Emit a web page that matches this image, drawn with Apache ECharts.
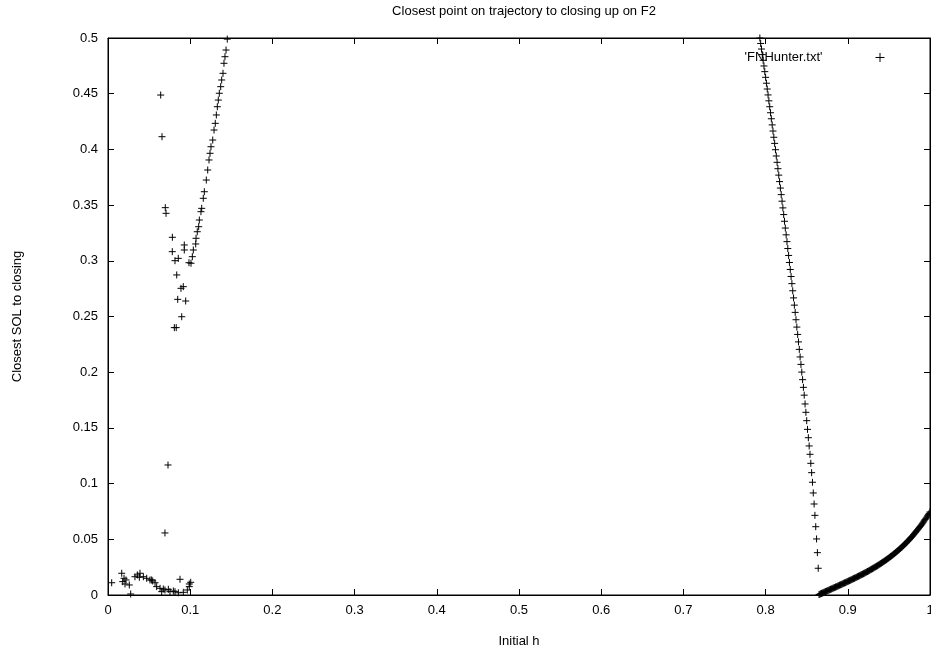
<!DOCTYPE html>
<html>
<head>
<meta charset="utf-8">
<script src="https://cdn.jsdelivr.net/npm/echarts@6/dist/echarts.min.js"></script>
<style>html,body{margin:0;padding:0;background:#fff;}#c{width:931px;height:657px;}</style>
</head>
<body>
<div id="c"></div>
<script>
var titleText = "Closest point on trajectory to closing up on F2";
var xName = "Initial h";
var yName = "Closest SOL to closing";
var seriesName = "'FNHunter.txt'";

// bottom-left cluster
var clusterH = [0.0045,0.0167,0.0179,0.0195,0.0207,0.0219,0.0259,0.0276,0.0328,0.0357,0.0381,0.0389,0.0430,0.0471,0.0511,0.0531,0.0544,0.0572,0.0592,0.0633,0.0653,0.0673,0.0693,0.0734,0.0754,0.0795,0.0815,0.0856,0.0876,0.0916,0.0965,0.0989,0.0989,0.1006];
var clusterY = [0.0110,0.0195,0.0120,0.0150,0.0099,0.0135,0.0090,0.0009,0.0164,0.0180,0.0159,0.0195,0.0164,0.0150,0.0135,0.0135,0.0126,0.0110,0.0075,0.0060,0.0030,0.0054,0.0045,0.0051,0.0030,0.0036,0.0030,0.0020,0.0141,0.0024,0.0045,0.0075,0.0099,0.0114];

// scattered points left of rising branch
var scatterH = [0.0641,0.0657,0.0697,0.0706,0.0783,0.0782,0.0815,0.0855,0.0928,0.0928,0.0836,0.0916,0.0888,0.0848,0.0945,0.0897,0.0807,0.0830,0.0730,0.0693];
var scatterY = [0.4488,0.4114,0.3477,0.3426,0.3211,0.3082,0.3001,0.3022,0.3142,0.3097,0.2873,0.2768,0.2753,0.2654,0.2639,0.2498,0.2400,0.2400,0.1167,0.0557];

// rising branch near h=0.1..0.145
var riseH = [0.1451,0.1436,0.1423,0.1411,0.1399,0.1383,0.1371,0.1354,0.1342,0.1330,0.1318,0.1305,0.1290,0.1274,0.1253,0.1241,0.1229,0.1213,0.1196,0.1172,0.1159,0.1140,0.1131,0.1111,0.1103,0.1086,0.1071,0.1067,0.1038,0.1026,0.1010,0.0985];
var riseY = [0.4990,0.4892,0.4832,0.4773,0.4683,0.4623,0.4563,0.4504,0.4443,0.4383,0.4309,0.4234,0.4174,0.4084,0.4024,0.3965,0.3905,0.3815,0.3725,0.3620,0.3561,0.3471,0.3441,0.3366,0.3306,0.3261,0.3202,0.3151,0.3097,0.3037,0.2978,0.2983];

// falling branch near h=0.793..0.864
var fallH = [0.793,0.794,0.795,0.796,0.797,0.798,0.799,0.800,0.801,0.802,0.803,0.804,0.805,0.806,0.807,0.808,0.809,0.810,0.811,0.812,0.813,0.814,0.815,0.816,0.817,0.818,0.819,0.820,0.821,0.822,0.823,0.824,0.825,0.826,0.827,0.828,0.829,0.830,0.831,0.832,0.833,0.834,0.835,0.836,0.837,0.838,0.839,0.840,0.841,0.842,0.843,0.844,0.845,0.846,0.847,0.848,0.849,0.850,0.851,0.852,0.853,0.854,0.855,0.856,0.857,0.858,0.859,0.860,0.861,0.862,0.863,0.864];
var fallY = [0.5000,0.4951,0.4901,0.4851,0.4800,0.4749,0.4698,0.4647,0.4594,0.4542,0.4489,0.4436,0.4383,0.4329,0.4275,0.4220,0.4165,0.4109,0.4054,0.3997,0.3941,0.3884,0.3827,0.3769,0.3711,0.3653,0.3594,0.3535,0.3475,0.3415,0.3355,0.3294,0.3233,0.3172,0.3110,0.3048,0.2985,0.2922,0.2859,0.2795,0.2731,0.2667,0.2602,0.2537,0.2471,0.2405,0.2339,0.2272,0.2205,0.2137,0.2070,0.2001,0.1933,0.1864,0.1794,0.1715,0.1640,0.1565,0.1487,0.1412,0.1338,0.1263,0.1182,0.1098,0.1012,0.0916,0.0817,0.0715,0.0613,0.0503,0.0380,0.0240];

// bottom-right curve h=0.865..1.000 (step 0.001)
var curveH = [0.865,0.866,0.867,0.868,0.869,0.870,0.871,0.872,0.873,0.874,0.875,0.876,0.877,0.878,0.879,0.880,0.881,0.882,0.883,0.884,0.885,0.886,0.887,0.888,0.889,0.890,0.891,0.892,0.893,0.894,0.895,0.896,0.897,0.898,0.899,0.900,0.901,0.902,0.903,0.904,0.905,0.906,0.907,0.908,0.909,0.910,0.911,0.912,0.913,0.914,0.915,0.916,0.917,0.918,0.919,0.920,0.921,0.922,0.923,0.924,0.925,0.926,0.927,0.928,0.929,0.930,0.931,0.932,0.933,0.934,0.935,0.936,0.937,0.938,0.939,0.940,0.941,0.942,0.943,0.944,0.945,0.946,0.947,0.948,0.949,0.950,0.951,0.952,0.953,0.954,0.955,0.956,0.957,0.958,0.959,0.960,0.961,0.962,0.963,0.964,0.965,0.966,0.967,0.968,0.969,0.970,0.971,0.972,0.973,0.974,0.975,0.976,0.977,0.978,0.979,0.980,0.981,0.982,0.983,0.984,0.985,0.986,0.987,0.988,0.989,0.990,0.991,0.992,0.993,0.994,0.995,0.996,0.997,0.998,0.999,1.000];
var curveY = [0.0004,0.0007,0.0011,0.0014,0.0017,0.0021,0.0024,0.0027,0.0031,0.0034,0.0037,0.0041,0.0044,0.0047,0.0051,0.0054,0.0057,0.0061,0.0064,0.0067,0.0071,0.0074,0.0077,0.0081,0.0084,0.0088,0.0091,0.0094,0.0098,0.0101,0.0105,0.0108,0.0111,0.0115,0.0118,0.0122,0.0125,0.0129,0.0132,0.0136,0.0139,0.0143,0.0147,0.0150,0.0154,0.0157,0.0161,0.0165,0.0169,0.0172,0.0176,0.0180,0.0184,0.0187,0.0191,0.0195,0.0199,0.0203,0.0207,0.0211,0.0215,0.0219,0.0224,0.0228,0.0232,0.0236,0.0241,0.0245,0.0250,0.0254,0.0258,0.0263,0.0268,0.0272,0.0277,0.0282,0.0287,0.0292,0.0297,0.0302,0.0307,0.0312,0.0317,0.0323,0.0328,0.0333,0.0339,0.0345,0.0350,0.0356,0.0362,0.0368,0.0374,0.0380,0.0386,0.0392,0.0399,0.0405,0.0412,0.0419,0.0425,0.0432,0.0439,0.0446,0.0454,0.0461,0.0468,0.0476,0.0484,0.0491,0.0499,0.0507,0.0516,0.0524,0.0532,0.0541,0.0550,0.0559,0.0568,0.0577,0.0586,0.0595,0.0605,0.0615,0.0625,0.0635,0.0645,0.0655,0.0666,0.0677,0.0688,0.0699,0.0710,0.0721,0.0733,0.0745];

function pairs(hs, ys) { return hs.map(function (h, i) { return [h, ys[i]]; }); }
var allData = [].concat(
  pairs(clusterH, clusterY), pairs(scatterH, scatterY), pairs(riseH, riseY),
  pairs(fallH, fallY), pairs(curveH, curveY));

var FONT = 'Liberation Sans';
var plus = 'path://M0,5L10,5M5,0L5,10';
var chart = echarts.init(document.getElementById('c'), null, {renderer: 'canvas'});
var tickCommon = {show: true, inside: true, length: 6, lineStyle: {color: '#000', width: 1}};
chart.setOption({
  animation: false,
  backgroundColor: '#fff',
  title: {text: titleText, left: 519, textAlign: 'center', top: 0, textStyle: {fontFamily: FONT, fontSize: 13, fontWeight: 'normal', color: '#000'}},
  legend: {
    right: 41, top: 46, align: 'right', itemWidth: 9, itemHeight: 9,
    data: [{name: seriesName, icon: plus, itemStyle: {color: 'transparent', borderColor: '#000', borderWidth: 1}}],
    textStyle: {fontFamily: FONT, fontSize: 13, color: '#000', padding: [0, 48, 0, 0]}
  },
  grid: {left: 108, right: 1, top: 38, bottom: 62, show: true, borderColor: '#000', borderWidth: 1, backgroundColor: 'transparent', containLabel: false, outerBoundsMode: 'none'},
  xAxis: [{
    type: 'value', min: 0, max: 1, interval: 0.1, position: 'bottom',
    name: xName, nameLocation: 'middle', nameGap: 40,
    nameTextStyle: {fontFamily: FONT, fontSize: 13, color: '#000'},
    axisLine: {show: true, onZero: false, lineStyle: {color: '#000'}},
    axisTick: tickCommon,
    axisLabel: {fontFamily: FONT, fontSize: 13, color: '#000', margin: 9, hideOverlap: false},
    splitLine: {show: false}
  }, {
    type: 'value', min: 0, max: 1, interval: 0.1, position: 'top',
    axisLine: {show: true, onZero: false, lineStyle: {color: '#000'}},
    axisTick: tickCommon, axisLabel: {show: false}, splitLine: {show: false}
  }],
  yAxis: [{
    type: 'value', min: 0, max: 0.5, interval: 0.05, position: 'left',
    name: yName, nameLocation: 'middle', nameGap: 84,
    nameTextStyle: {fontFamily: FONT, fontSize: 13, color: '#000'},
    axisLine: {show: true, onZero: false, lineStyle: {color: '#000'}},
    axisTick: tickCommon,
    axisLabel: {fontFamily: FONT, fontSize: 13, color: '#000', margin: 10},
    splitLine: {show: false}
  }, {
    type: 'value', min: 0, max: 0.5, interval: 0.05, position: 'right',
    axisLine: {show: true, onZero: false, lineStyle: {color: '#000'}},
    axisTick: tickCommon, axisLabel: {show: false}, splitLine: {show: false}
  }],
  series: [{
    name: seriesName, type: 'scatter', xAxisIndex: 0, yAxisIndex: 0,
    symbol: plus, symbolSize: 7,
    itemStyle: {color: 'transparent', borderColor: '#000', borderWidth: 1, opacity: 1},
    emphasis: {disabled: true},
    data: allData
  }]
});
</script>
</body>
</html>
